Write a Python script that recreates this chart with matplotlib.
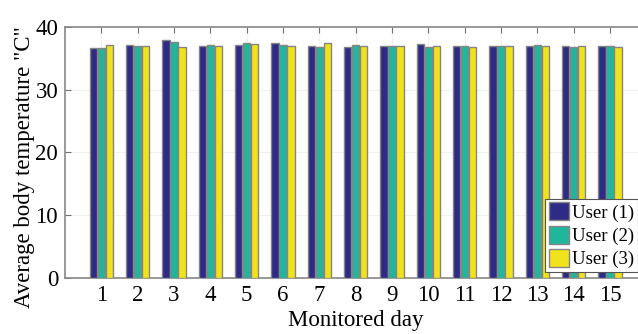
import matplotlib
matplotlib.use("Agg")
import matplotlib.pyplot as plt
import numpy as np

plt.rcParams['font.family'] = ['Liberation Serif', 'DejaVu Serif']

days = np.arange(1, 16)
user1 = [36.7, 37.2, 37.9, 36.9, 37.1, 37.4, 37.0, 36.8, 36.9, 37.3, 37.0, 36.9, 37.05, 36.9, 36.9]
user2 = [36.7, 36.9, 37.6, 37.1, 37.45, 37.2, 36.8, 37.2, 37.0, 36.8, 36.9, 37.0, 37.1, 36.85, 37.05]
user3 = [37.1, 37.0, 36.8, 37.0, 37.35, 36.9, 37.45, 37.0, 37.05, 36.9, 36.85, 37.0, 36.9, 36.95, 36.85]
labels = ['User (1)', 'User (2)', 'User (3)']
colors = ['#2e2b86', '#21b69c', '#f0e31c']

fig = plt.figure(figsize=(6.38, 3.34), dpi=100)
ax = fig.add_axes([0.102, 0.168, 0.911, 0.751])

w = 0.2
off = 0.22
for i, (vals, lab, c) in enumerate(zip([user1, user2, user3], labels, colors)):
    ax.bar(days + (i - 1) * off, vals, width=w, color=c, edgecolor='#858585',
           linewidth=1.0, label=lab, zorder=3)

ax.set_xlim(0, 16)
ax.set_ylim(0, 40)
ax.set_xticks(days)
ax.set_yticks([0, 10, 20, 30, 40])
ax.tick_params(axis='both', direction='in', labelsize=16.5, length=4, color='#707070',
               top=True, bottom=False, right=False, pad=5)
ax.grid(True, color='#f1f1f1', linewidth=0.8, zorder=0)
for s in ax.spines.values():
    s.set_color('#888888')
    s.set_linewidth(1.2)

ax.set_xlabel('Monitored day', fontsize=16.5, labelpad=3)
ax.set_ylabel('Average body temperature "C"', fontsize=16.5)
ax.yaxis.set_label_coords(-0.052, 0.44)

leg = fig.legend(loc='lower left', bbox_to_anchor=(0.854, 0.186), fontsize=13.5,
                 frameon=True, fancybox=False, borderpad=0.2, labelspacing=0.2,
                 handlelength=1.1, handleheight=1.1, handletextpad=0.15, borderaxespad=0.0)
leg.get_frame().set_edgecolor('#555555')
leg.get_frame().set_linewidth(0.8)
leg.get_frame().set_alpha(1)

fig.savefig('out.png', dpi=100)
